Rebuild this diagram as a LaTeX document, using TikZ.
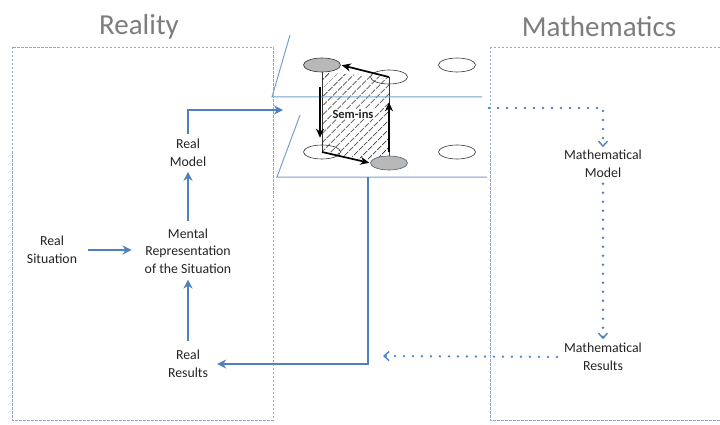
\documentclass[tikz,border=0pt]{standalone}
\usepackage{fontspec}
\setmainfont{Carlito}
\usetikzlibrary{arrows.meta,patterns.meta,shapes.geometric,backgrounds}

\definecolor{flowblue}{RGB}{79,129,189}
\definecolor{thinblue}{RGB}{120,160,205}
\definecolor{arealine}{RGB}{150,165,205}
\definecolor{titlegray}{RGB}{125,125,125}
\definecolor{txtgray}{RGB}{35,35,35}

\tikzset{
    lbl/.style={align=center, text=txtgray, inner sep=1pt,
        font=\fontsize{13.8}{17.5}\selectfont},
    heading/.style={text=titlegray, font=\fontsize{29}{32}\selectfont},
    area/.style={arealine, dash pattern=on 2.5pt off 1.5pt, line width=0.6pt},
    plane/.style={thinblue, line width=1pt},
    flow/.style={flowblue, line width=1.9pt, -{Stealth[length=9pt,width=9pt]}},
    mflow/.style={flowblue, line width=2.6pt, line cap=round,
        dash pattern=on 0pt off 9pt, -{Straight Barb[length=5pt,width=9pt,line width=1.4pt]}},
    ell/.style={ellipse, draw=black!80, line width=0.6pt,
        minimum width=37pt, minimum height=14pt, inner sep=0pt},
    semarrow/.style={black, line width=1.7pt, -{Stealth[length=9pt,width=8pt]}}
}

\begin{document}
\begin{tikzpicture}[x=1pt, y=-1pt]
    \useasboundingbox (0,0) rectangle (720,425);

    % Titles and the two dashed areas
    \node[heading] (realitytitle) at (139,27) {Reality};
    \node[heading] (mathtitle) at (599,27) {Mathematics};
    \draw[area] (12,47) rectangle (273,420);
    \draw[area] (490,47) rectangle (730,420);

    % The two planes
    \draw[plane] (290,35) -- (272,97) -- (482,97);
    \draw[plane] (300,115) -- (277,177) -- (487,177);
    \coordinate (upin) at (283,110);
    \coordinate (lowout) at (368,177);
    \coordinate (mathin) at (489,108);
    \coordinate (resin) at (383,356);

    % Ellipses on the upper and lower plane
    \node[ell, fill=black!28] (u1) at (322,65) {};
    \node[ell] (u2) at (389,77) {};
    \node[ell] (u3) at (457,65) {};
    \node[ell] (l1) at (322,152) {};
    \node[ell, fill=black!28, draw=thinblue!60!black] (l2) at (389,163) {};
    \node[ell] (l3) at (457,152) {};

    % Hatched band between the planes
    \begin{scope}[on background layer]
        \fill[pattern={Lines[angle=45, distance=6.5pt, line width=0.9pt]}, pattern color=black!80]
            (u1.south) -- (u2.center) -- (l2.center) -- (l1.center) -- cycle;
        \draw[black!80, line width=0.6pt] (u1.south) -- (l1.center);
        \draw[black!80, line width=0.6pt] (u2.center) -- (l2.center);
    \end{scope}
    \node[font=\bfseries\fontsize{12.5}{14}\selectfont, text=txtgray, fill=white, inner sep=1pt] (semins) at (353,114) {Sem-ins};

    % Black arrows round the hatched band
    \draw[semarrow, shorten >=1pt] (u2.center) -- (u1.east);
    \draw[semarrow, shorten <=15pt, shorten >=7pt] ([xshift=-2pt]u1.south) -- ([xshift=-2pt]l1.north);
    \draw[semarrow, shorten >=1pt] (l1.center) -- (l2.west);
    \draw[semarrow, shorten <=4pt, shorten >=18pt] (l2.north) -- (u2.south);

    % Reality side
    \node[lbl] (realsit) at (52,250) {Real\\Situation};
    \node[lbl] (mentalrep) at (188,251) {Mental\\Representation\\of the Situation};
    \node[lbl] (realmodel) at (188,153) {Real\\Model};
    \node[lbl] (realres) at (188,364) {Real\\Results};

    \draw[flow, shorten <=10pt, shorten >=12pt] (realsit) -- (realsit -| mentalrep.west);
    \draw[flow, shorten <=8pt, shorten >=5pt] (realres.north) -- (mentalrep.south);
    \draw[flow, shorten <=6pt, shorten >=4pt] (mentalrep.north) -- (realmodel.south);
    \draw[flow, shorten <=4pt] (realmodel.north) |- (upin);
    \draw[flow, shorten >=8pt] (lowout) |- (realres.east);

    % Mathematics side
    \node[lbl] (mathmodel) at (603,164) {Mathematical\\Model};
    \node[lbl] (mathres) at (603,357) {Mathematical\\Results};

    \draw[mflow, shorten >=2pt] (mathin) -| (mathmodel.north);
    \draw[mflow, shorten <=5pt, shorten >=3pt] (mathmodel.south) -- (mathres.north);
    \draw[mflow, shorten <=6pt] (mathres.west) -- (resin);
\end{tikzpicture}
\end{document}
